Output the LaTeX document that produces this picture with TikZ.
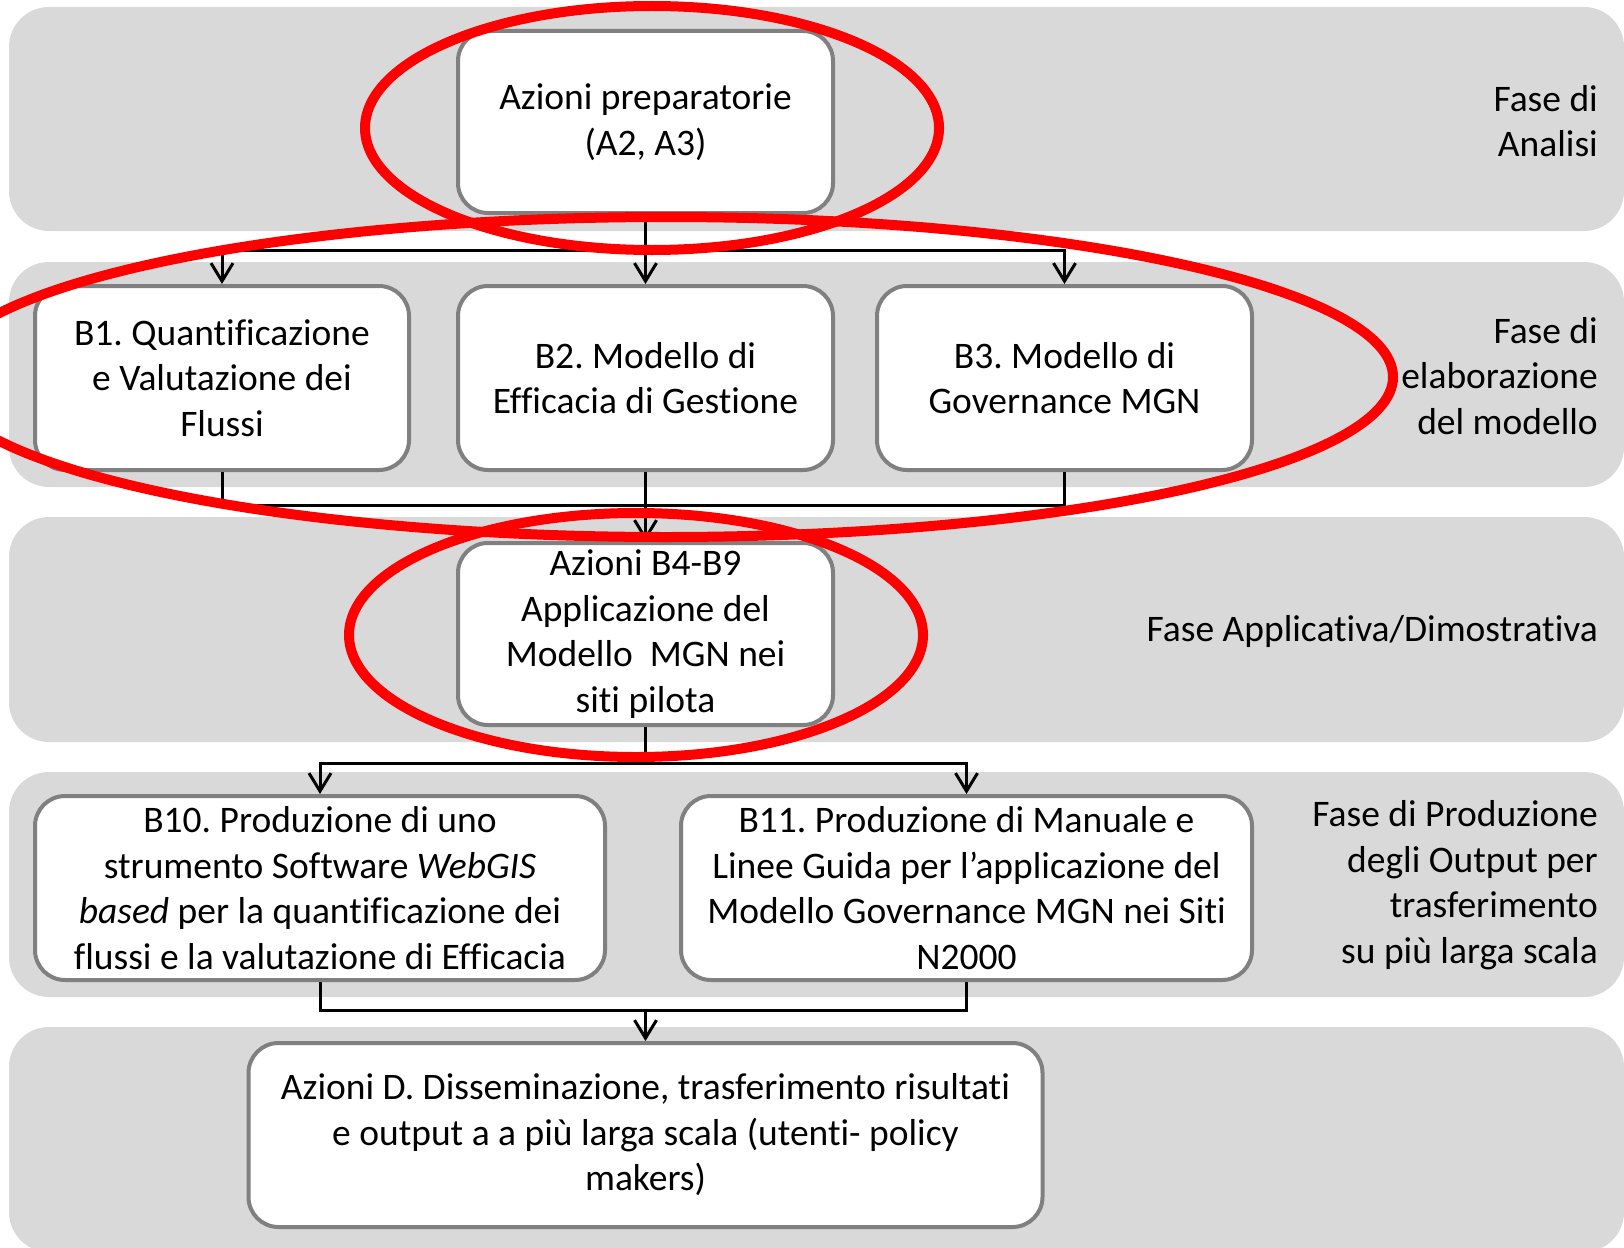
\documentclass[tikz,border=0pt]{standalone}
\usepackage{fontspec}
\setmainfont{Carlito}[Ligatures=NoCommon]
\usetikzlibrary{arrows.meta}
\definecolor{bandgray}{HTML}{D9D9D9}
\definecolor{boxgray}{HTML}{808080}
\frenchspacing
\begin{document}
\begin{tikzpicture}[x=1pt,y=-1pt,
  band/.style={fill=bandgray, draw=none, rounded corners=40pt},
  pbox/.style={draw=boxgray, line width=4pt, fill=white, rounded corners=30pt,
    align=center, inner sep=2pt, font=\fontsize{37.5}{45.5}\selectfont},
  phase/.style={anchor=east, align=right, inner sep=0pt, font=\fontsize{37.5}{45.5}\selectfont},
  conn/.style={draw=black, line width=3pt},
  arr/.style={conn, -{Straight Barb[length=18pt,width=22pt,line width=3pt]}},
  redring/.style={draw=red, line width=10pt}
]
\useasboundingbox (0,0) rectangle (1624,1247);
% bands
\fill[band] (9,7) rectangle (1624,231);
\fill[band] (9,262) rectangle (1624,487);
\fill[band] (9,517) rectangle (1624,742);
\fill[band] (9,772) rectangle (1624,997);
\fill[band] (9,1027) rectangle (1624,1252);
% boxes
\node[pbox, minimum width=375pt, minimum height=182pt] (A) at (645.5,122) {Azioni preparatorie\\(A2, A3)};
\node[pbox, minimum width=374pt, minimum height=184pt] (B1) at (222,378) {B1. Quantificazione\\e Valutazione dei\\Flussi};
\node[pbox, minimum width=375pt, minimum height=184pt] (B2) at (645.5,378) {B2. Modello di\\Efficacia di Gestione};
\node[pbox, minimum width=375pt, minimum height=184pt] (B3) at (1064.5,378) {B3. Modello di\\Governance MGN};
\node[pbox, minimum width=375pt, minimum height=182pt] (C) at (645.5,634) {Azioni B4-B9\\Applicazione del\\Modello\ \ MGN nei\\siti pilota};
\node[pbox, minimum width=570pt, minimum height=184pt] (B10) at (320,888) {B10. Produzione di uno\\strumento Software \textit{WebGIS}\\\textit{based} per la quantificazione dei\\flussi e la valutazione di Efficacia};
\node[pbox, minimum width=571pt, minimum height=184pt] (B11) at (966.5,888) {B11. Produzione di Manuale e\\Linee Guida per l’applicazione del\\Modello Governance MGN nei Siti\\N2000};
\node[pbox, minimum width=794pt, minimum height=184pt] (D) at (645.5,1135) {Azioni D. Disseminazione, trasferimento risultati\\e output a a più larga scala (utenti- policy\\makers)};
% phase labels
\node[phase] (L1) at (1598,121) {Fase di\\Analisi};
\node[phase] (L2) at (1598,376) {Fase di\\elaborazione\\del modello};
\node[phase] (L3) at (1598,631) {Fase Applicativa/Dimostrativa};
\node[phase] (L4) at (1598,885) {Fase di Produzione\\degli Output per\\trasferimento\\su più larga scala};
% connectors
\coordinate (j1) at (645.5,250);
\coordinate (j2) at (645.5,505);
\coordinate (j3) at (645.5,763);
\coordinate (j4) at (645.5,1010);
\draw[conn] (A.south) -- (j1);
\draw[arr] (j1) -- (B2.north);
\draw[arr] (j1) -| (B1.north);
\draw[arr] (j1) -| (B3.north);
\draw[conn] (B1.south) |- (j2);
\draw[conn] (B3.south) |- (j2);
\draw[conn] (B2.south) -- (j2);
\draw[arr] (j2) -- (C.north);
\draw[conn] (C.south) -- (j3);
\draw[arr] (j3) -| (B10.north);
\draw[arr] (j3) -| (B11.north);
\draw[conn] (B10.south) |- (j4);
\draw[conn] (B11.south) |- (j4);
\draw[arr] (j4) -- (D.north);
% red annotation ellipses
\draw[redring] (652,128) ellipse [x radius=287pt, y radius=122pt];
\draw[redring] (666,377) ellipse [x radius=727pt, y radius=160pt];
\draw[redring] (636,635) ellipse [x radius=287pt, y radius=122pt];
\end{tikzpicture}
\end{document}
